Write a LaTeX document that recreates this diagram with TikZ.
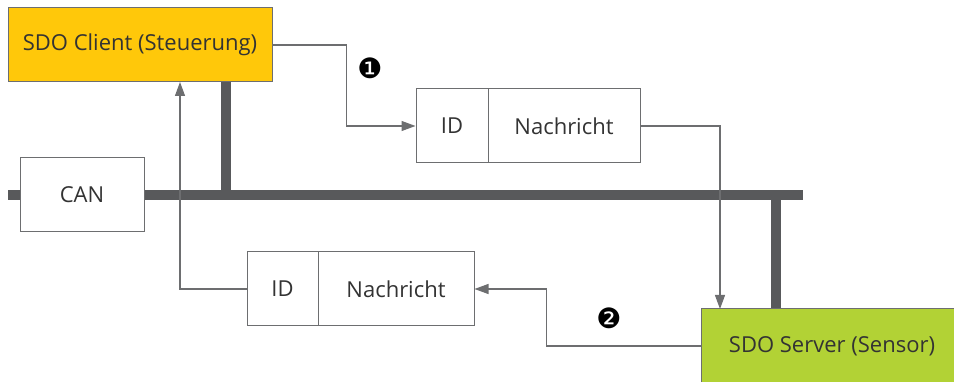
\documentclass[tikz,border=0pt]{standalone}
\usepackage{fontspec}
\setmainfont{Open Sans}
\newfontfamily\numfont{DejaVu Sans}
\usetikzlibrary{arrows.meta}
\definecolor{busgray}{HTML}{58595B}
\definecolor{linegray}{HTML}{6D6E70}
\definecolor{clientyellow}{HTML}{FFC80A}
\definecolor{servergreen}{HTML}{B2D235}
\definecolor{textgray}{HTML}{333333}
\pgfdeclarelayer{edgelayer}
\pgfdeclarelayer{nodelayer}
\pgfsetlayers{edgelayer,nodelayer,main}
\tikzstyle{box}=[rectangle,draw=linegray,line width=1pt,fill=white,inner sep=0pt,minimum height=74pt,text=textgray,font=\fontsize{22}{26}\selectfont]
\tikzstyle{client}=[box,fill=clientyellow,minimum width=264pt]
\tikzstyle{server}=[box,fill=servergreen,minimum width=262pt]
\tikzstyle{bus}=[draw=busgray,line width=10pt]
\tikzstyle{transition}=[-{Triangle[length=14pt,width=10pt]},draw=linegray,line width=1.2pt]
\tikzstyle{step_label}=[inner sep=0pt,text=black,font=\numfont\fontsize{28}{30}\selectfont]

\begin{document}
\begin{tikzpicture}[x=1pt,y=-1pt]
	\useasboundingbox (0,0) rectangle (954,382);
	\begin{pgfonlayer}{nodelayer}
		\node [style=client] (0) at (140, 45) {SDO Client (Steuerung)};
		\node [style=box, minimum width=124pt] (1) at (82, 195) {CAN};
		\node [style=box, minimum width=72pt] (2) at (452, 126) {ID};
		\node [style=box, minimum width=152pt] (3) at (564, 126) {Nachricht};
		\node [style=box, minimum width=71pt] (4) at (282.5, 289) {ID};
		\node [style=box, minimum width=156pt] (5) at (396, 289) {Nachricht};
		\node [style=server] (6) at (832, 346) {SDO Server (Sensor)};
		\node [style=step_label] (7) at (370, 68) {❶};
		\node [style=step_label] (8) at (609, 318) {❷};
	\end{pgfonlayer}
	\begin{pgfonlayer}{edgelayer}
		% CAN bus and stubs
		\coordinate (b0) at (8, 195);
		\coordinate (b1) at (803, 195);
		\coordinate (c0) at (226, 195);
		\coordinate (s0) at (776, 195);
		\draw [style=bus] (b0) -- (b1);
		\draw [style=bus] (c0) -- (c0 |- 0.south);
		\draw [style=bus] (s0) -- (s0 |- 6.north);
		% messages
		\coordinate (in6) at (720, 309);
		\coordinate (in0) at (180, 82);
		\draw [style=transition] (0.east) -- ++(74, 0) |- (2.west);
		\draw [style=transition] (3.east) -| (in6);
		\draw [style=transition] (6.west) -- ++(-154, 0) |- (5.east);
		\draw [style=transition] (4.west) -| (in0);
	\end{pgfonlayer}
\end{tikzpicture}
\end{document}
